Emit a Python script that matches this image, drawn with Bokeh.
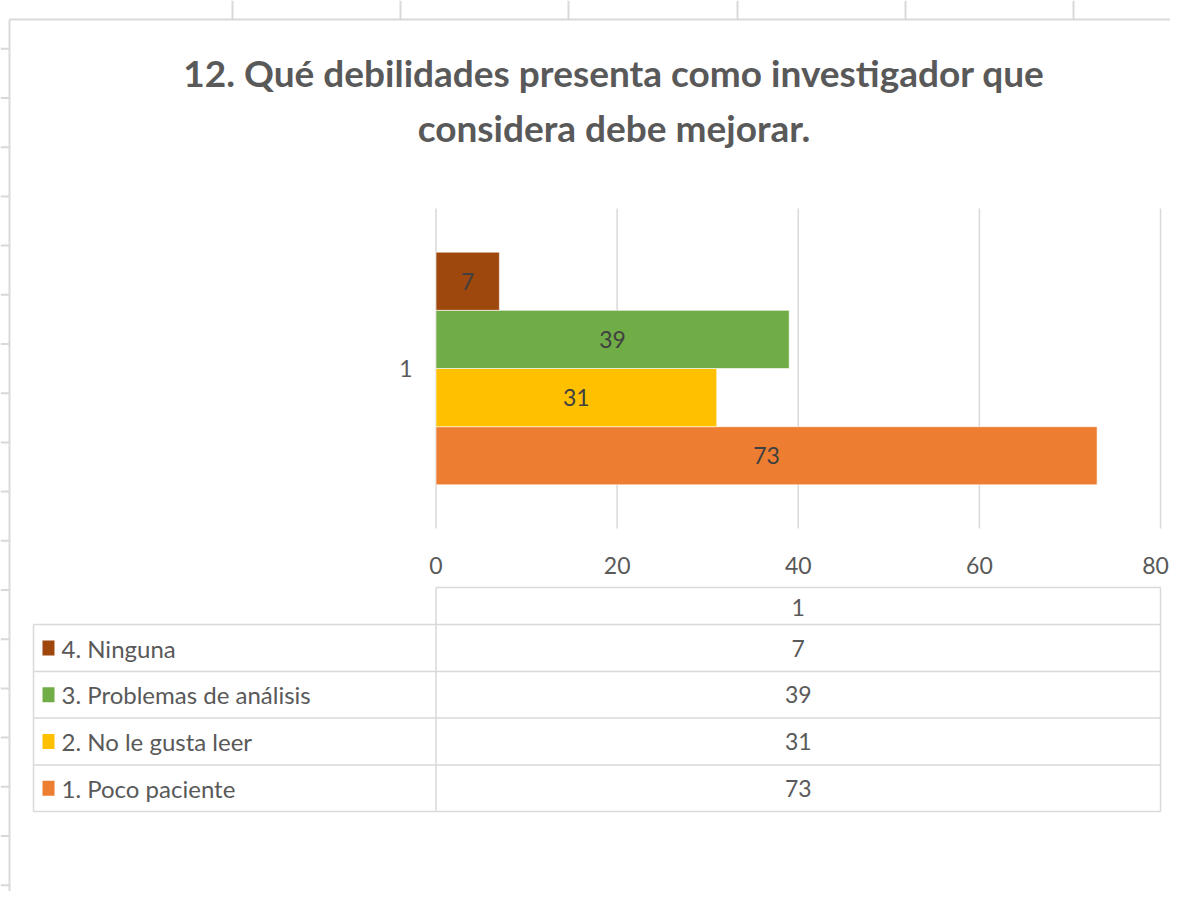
from bokeh.plotting import figure
from bokeh.models import Range1d
from bokeh.core.properties import value
from bokeh.embed import file_html
from bokeh.resources import INLINE

# ---------------- data ----------------
title_lines = ["12. Qué debilidades presenta como investigador que",
               "considera debe mejorar."]
categories = ["1"]
series_names = ["1.  Poco paciente", "2. No le gusta leer",
                "3. Problemas de análisis", "4.  Ninguna"]
series_values = [73, 31, 39, 7]
series_colors = ["#ED7D31", "#FFC000", "#70AD47", "#9E480E"]
x_ticks = [0, 20, 40, 60, 80]

# ---------------- layout (pixels) ----------------
W, H = 1170, 891
X0_PX, X80_PX = 435.5, 1160.0          # where 0 and 80 sit
K = (X80_PX - X0_PX) / (x_ticks[-1] - x_ticks[0])


def dx(px):
    """pixel x -> value units"""
    return (px - X0_PX) / K


FONT = value("Lato")
GREY = "#595959"
LINE = "#D9D9D9"
NUM_SIZE = "23px"
TXT_SIZE = "24px"

p = figure(width=W, height=H, output_backend="svg", toolbar_location=None,
           x_range=Range1d(dx(0), dx(W)), y_range=Range1d(H, 0),
           x_axis_type=None, y_axis_type=None, min_border=0,
           background_fill_color="white", border_fill_color="white")
p.outline_line_color = None
p.grid.visible = False

# spreadsheet cells / chart-area border
p.segment(x0=[dx(9)], y0=[19], x1=[dx(9)], y1=[H], line_color=LINE, line_width=2)
p.segment(x0=[dx(9)], y0=[19], x1=[dx(W)], y1=[19], line_color=LINE, line_width=2)
cell_cols = [232, 400, 568, 737, 905, 1073]
p.segment(x0=[dx(c) for c in cell_cols], y0=[0] * len(cell_cols),
          x1=[dx(c) for c in cell_cols], y1=[19] * len(cell_cols),
          line_color=LINE, line_width=2)
cell_rows = [48.3 + 49.2 * i for i in range(18)]
p.segment(x0=[dx(0)] * len(cell_rows), y0=cell_rows, x1=[dx(9)] * len(cell_rows),
          y1=cell_rows, line_color=LINE, line_width=2)

# title
p.text(x=[dx(613.5)] * 2, y=[72, 127], text=title_lines, text_font=FONT,
       text_font_size="37px", text_font_style="bold", text_color=GREY,
       text_align="center", text_baseline="middle")

# plot area
BAND_TOP, BAND_BOT = 208, 528
band_c = (BAND_TOP + BAND_BOT) / 2
gap = 1.5
n = len(series_values)
bar_h = (BAND_BOT - BAND_TOP) / (n + gap)
bar_y = [band_c + ((n - 1) / 2 - i) * bar_h for i in range(n)]

p.segment(x0=x_ticks, y0=[BAND_TOP] * len(x_ticks), x1=x_ticks,
          y1=[BAND_BOT] * len(x_ticks), line_color=LINE, line_width=1.5)

p.hbar(y=bar_y, left=0, right=series_values, height=bar_h,
       fill_color=series_colors, line_color="white", line_width=0.6)

p.text(x=[v / 2 for v in series_values], y=bar_y,
       text=[str(v) for v in series_values], text_font=FONT,
       text_font_size=NUM_SIZE, text_color="#404040",
       text_align="center", text_baseline="middle")

# axis labels (last one nudged so it stays inside the canvas)
tick_offsets = [0] * (len(x_ticks) - 1) + [-5]
p.text(x=x_ticks, y=[565] * len(x_ticks), text=[str(t) for t in x_ticks],
       x_offset=tick_offsets,
       text_font=FONT, text_font_size=NUM_SIZE, text_color=GREY,
       text_align="center", text_baseline="middle")
p.text(x=[dx(412)], y=[band_c], text=categories, text_font=FONT,
       text_font_size=NUM_SIZE, text_color=GREY,
       text_align="right", text_baseline="middle")

# data table
row_edges = [587, 624, 671, 717.5, 764.5, 811]
TBL_L = 33
col_mid = (x_ticks[0] + x_ticks[-1]) / 2
p.segment(x0=[x_ticks[0]] + [dx(TBL_L)] * 5, y0=row_edges,
          x1=[x_ticks[-1]] * 6, y1=row_edges, line_color=LINE, line_width=1.5)
p.segment(x0=[dx(TBL_L), x_ticks[0], x_ticks[-1]],
          y0=[row_edges[1], row_edges[0], row_edges[0]],
          x1=[dx(TBL_L), x_ticks[0], x_ticks[-1]],
          y1=[row_edges[-1]] * 3, line_color=LINE, line_width=1.5)

p.text(x=[col_mid], y=[(row_edges[0] + row_edges[1]) / 2 + 1], text=categories,
       text_font=FONT, text_font_size=NUM_SIZE, text_color=GREY,
       text_align="center", text_baseline="middle")

rows_names = series_names[::-1]
rows_vals = series_values[::-1]
rows_cols = series_colors[::-1]
row_c = [(row_edges[i + 1] + row_edges[i + 2]) / 2 for i in range(n)]

p.text(x=[col_mid] * n, y=row_c, text=[str(v) for v in rows_vals],
       text_font=FONT, text_font_size=NUM_SIZE, text_color=GREY,
       text_align="center", text_baseline="middle")
p.rect(x=[dx(48)] * n, y=row_c, width=12, height=15, width_units="screen",
       height_units="screen", fill_color=rows_cols, line_color=None)
p.text(x=[dx(61)] * n, y=row_c, text=rows_names, text_font=FONT,
       text_font_size=TXT_SIZE, text_color=GREY,
       text_align="left", text_baseline="middle")

open("out.html", "w").write(file_html(p, INLINE))
